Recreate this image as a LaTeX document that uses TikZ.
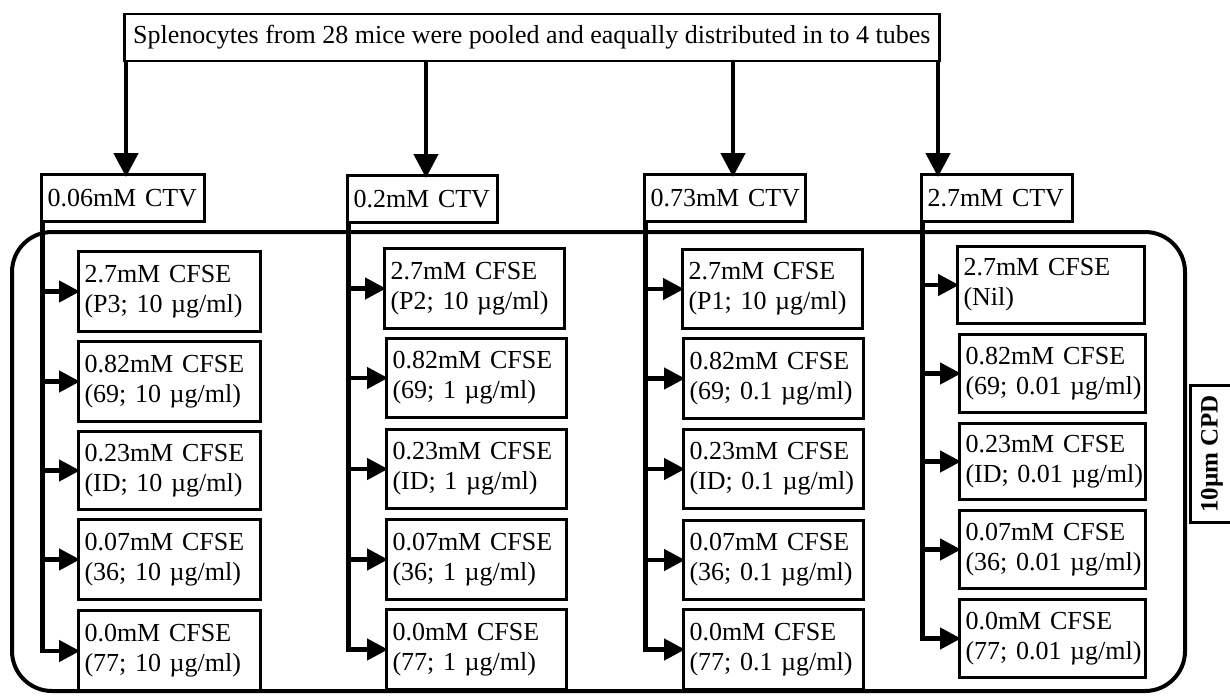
\documentclass[tikz,border=0pt]{standalone}
\usepackage{fontspec}
\setmainfont{Liberation Serif}
\usetikzlibrary{arrows.meta}
\begin{document}
\begin{tikzpicture}[x=1pt,y=-1pt,
  every node/.style={font=\fontsize{26pt}{30pt}\selectfont},
  box/.style={draw, line width=3pt, inner xsep=6pt, inner ysep=0pt,
              anchor=north west, align=left},
  ctvbox/.style={box, minimum height=47pt},
  feed/.style={line width=4.5pt, shorten >=-4pt,
               -{Triangle[length=24pt,width=24pt]}},
  branch/.style={line width=4.5pt, shorten >=-3pt,
                 -{Triangle[length=21pt,width=21pt]}},
  frame/.style={line width=4pt, rounded corners=40pt}]
\useasboundingbox (0,0) rectangle (1230,696);

% enclosing frame of the CPD-labelled samples
\draw[frame] (12,232) rectangle (1185,691);

% source tube
\node[draw, line width=2.5pt, minimum width=815pt, minimum height=47pt,
      inner sep=0pt, anchor=north west] (src) at (123,12.5)
  {Splenocytes from 28 mice were pooled and eaqually distributed in to 4 tubes};

% CTV tubes
\node[ctvbox, text width=151pt] (ctv1) at (40,173)  {0.06mM~CTV};
\node[ctvbox, text width=138pt] (ctv2) at (346,174) {0.2mM~CTV};
\node[ctvbox, text width=149pt] (ctv3) at (643,173) {0.73mM~CTV};
\node[ctvbox, text width=139pt] (ctv4) at (920,173) {2.7mM~CTV};

% feed arrows from the source tube
\coordinate (f1) at (126,0);
\coordinate (f2) at (426,0);
\coordinate (f3) at (733,0);
\coordinate (f4) at (938,0);
\foreach \i in {1,...,4}
  \draw[feed] (src.south -| f\i) -- (ctv\i.north -| f\i);

% CFSE samples, column 1
\begin{scope}[every node/.append style={box, text width=170pt}]
\node[minimum height=80pt] (c11) at (77,250) {2.7mM~CFSE\\(P3;~10~µg/ml)};
\node[minimum height=80pt] (c12) at (77,340) {0.82mM~CFSE\\(69;~10~µg/ml)};
\node[minimum height=78pt] (c13) at (77,430) {0.23mM~CFSE\\(ID;~10~µg/ml)};
\node[minimum height=80pt] (c14) at (77,518) {0.07mM~CFSE\\(36;~10~µg/ml)};
\node[minimum height=81pt] (c15) at (77,609) {0.0mM~CFSE\\(77;~10~µg/ml)};
\end{scope}

% column 2
\begin{scope}[every node/.append style={box, text width=168pt}]
\node[minimum height=80pt] (c21) at (383,247) {2.7mM~CFSE\\(P2;~10~µg/ml)};
\node[minimum height=79pt] (c22) at (385,337) {0.82mM~CFSE\\(69;~1~µg/ml)};
\node[minimum height=79pt] (c23) at (385,428) {0.23mM~CFSE\\(ID;~1~µg/ml)};
\node[minimum height=80pt] (c24) at (385,518) {0.07mM~CFSE\\(36;~1~µg/ml)};
\node[minimum height=80pt] (c25) at (385,608) {0.0mM~CFSE\\(77;~1~µg/ml)};
\end{scope}

% column 3
\begin{scope}[every node/.append style={box, text width=168pt}]
\node[minimum height=79pt] (c31) at (681,248) {2.7mM~CFSE\\(P1;~10~µg/ml)};
\node[minimum height=80pt] (c32) at (682,337) {0.82mM~CFSE\\(69;~0.1~µg/ml)};
\node[minimum height=79pt] (c33) at (682,428) {0.23mM~CFSE\\(ID;~0.1~µg/ml)};
\node[minimum height=79pt] (c34) at (682,519) {0.07mM~CFSE\\(36;~0.1~µg/ml)};
\node[minimum height=80pt] (c35) at (682,608) {0.0mM~CFSE\\(77;~0.1~µg/ml)};
\end{scope}

% column 4
\begin{scope}[every node/.append style={box, text width=175pt}]
\node[minimum height=77pt] (c41) at (956,245) {2.7mM~CFSE\\(Nil)};
\node[minimum height=78pt, text width=174pt] (c42) at (958,333) {0.82mM~CFSE\\(69;~0.01~µg/ml)};
\node[minimum height=76pt, text width=174pt] (c43) at (958,422) {0.23mM~CFSE\\(ID;~0.01~µg/ml)};
\node[minimum height=78pt, text width=174pt] (c44) at (958,509) {0.07mM~CFSE\\(36;~0.01~µg/ml)};
\node[minimum height=78pt, text width=174pt] (c45) at (958,598) {0.0mM~CFSE\\(77;~0.01~µg/ml)};
\end{scope}

% distribution trunks and branch arrows
\foreach \i in {1,...,4} {
  \coordinate (k\i) at ([xshift=2.5pt]ctv\i.south west);
  \draw[branch] (k\i) |- (c\i5.west);
  \foreach \j in {1,...,4}
    \draw[branch] (k\i |- c\i\j.west) -- (c\i\j.west);
}

% CPD label
\node[draw, line width=3pt, rotate=90, minimum width=137pt, minimum height=44pt,
      inner sep=0pt, font=\fontsize{25pt}{30pt}\selectfont\bfseries]
  (cpd) at (1212,454) {10µm~CPD};
\end{tikzpicture}
\end{document}
